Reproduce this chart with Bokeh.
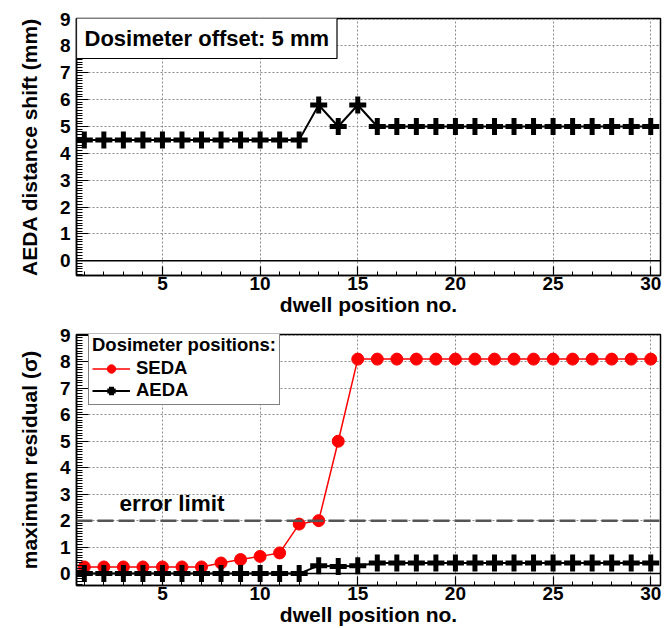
from bokeh.plotting import figure
from bokeh.layouts import column
from bokeh.models import Range1d, FixedTicker, Span, Label, Legend, LegendItem
from bokeh.embed import file_html
from bokeh.resources import INLINE

# ---------------- data ----------------
positions = [1, 2, 3, 4, 5, 6, 7, 8, 9, 10, 11, 12, 13, 14, 15,
             16, 17, 18, 19, 20, 21, 22, 23, 24, 25, 26, 27, 28, 29, 30]
aeda_shift = [4.5, 4.5, 4.5, 4.5, 4.5, 4.5, 4.5, 4.5, 4.5, 4.5, 4.5, 4.5, 5.8, 5.0, 5.8,
              5.0, 5.0, 5.0, 5.0, 5.0, 5.0, 5.0, 5.0, 5.0, 5.0, 5.0, 5.0, 5.0, 5.0, 5.0]
seda_residual = [0.25, 0.25, 0.25, 0.25, 0.25, 0.25, 0.25, 0.4, 0.53, 0.65, 0.78, 1.87, 2.0, 5.0, 8.1,
                 8.1, 8.1, 8.1, 8.1, 8.1, 8.1, 8.1, 8.1, 8.1, 8.1, 8.1, 8.1, 8.1, 8.1, 8.1]
aeda_residual = [0.0, 0.0, 0.0, 0.0, 0.0, 0.0, 0.0, 0.0, 0.0, 0.0, 0.0, 0.0, 0.3, 0.27, 0.3,
                 0.4, 0.4, 0.4, 0.4, 0.4, 0.4, 0.4, 0.4, 0.4, 0.4, 0.4, 0.4, 0.4, 0.4, 0.4]
x_major_ticks = [5, 10, 15, 20, 25, 30]
x_minor_ticks = positions
y_major_ticks = [0, 1, 2, 3, 4, 5, 6, 7, 8, 9]
error_limit = 2
offset_text = "Dosimeter offset: 5 mm"

FONT = "Liberation Sans"
X0, X1 = 0.6, 30.5


def make_fig(height, y0, y1, top, ylabel):
    p = figure(width=672, height=height, x_range=Range1d(X0, X1), y_range=Range1d(y0, y1),
               output_backend="svg", toolbar_location=None,
               min_border_left=76, min_border_right=12,
               min_border_top=top, min_border_bottom=0)
    p.background_fill_color = "white"
    p.border_fill_color = "white"
    p.outline_line_color = "black"
    p.outline_line_width = 1.5
    p.xaxis.ticker = FixedTicker(ticks=x_major_ticks, minor_ticks=x_minor_ticks)
    y_minor = [k / 10 for k in range(int(y0 * 10), int(y1 * 10) + 1)]
    p.yaxis.ticker = FixedTicker(ticks=y_major_ticks, minor_ticks=y_minor)
    for ax in (p.xaxis[0], p.yaxis[0]):
        ax.axis_line_color = "black"
        ax.axis_line_width = 1.5
        ax.major_tick_line_color = "black"
        ax.minor_tick_line_color = "black"
        ax.major_tick_line_width = 1.2
        ax.minor_tick_line_width = 1
        ax.major_tick_out = 0
        ax.minor_tick_out = 0
        ax.major_label_text_font = FONT
        ax.major_label_text_font_style = "bold"
        ax.major_label_text_font_size = "19px"
        ax.major_label_text_color = "black"
        ax.axis_label_text_font = FONT
        ax.axis_label_text_font_style = "bold"
        ax.axis_label_text_font_size = "21px"
        ax.axis_label_text_color = "black"
    p.xaxis.major_tick_in = 9
    p.xaxis.minor_tick_in = 4
    p.yaxis.major_tick_in = 12
    p.yaxis.minor_tick_in = 6
    p.xaxis.major_label_standoff = 1
    p.yaxis.major_label_standoff = 6
    p.xaxis.axis_label = "dwell position no."
    p.xaxis.axis_label_standoff = 0
    p.yaxis.axis_label = ylabel
    p.yaxis.axis_label_standoff = 16
    for g in (p.xgrid[0], p.ygrid[0]):
        g.grid_line_color = "#8a8a8a"
        g.grid_line_dash = "2 2"
        g.grid_line_width = 1
    p.add_layout(Span(location=0, dimension="width", line_color="black", line_width=1.5))
    return p


# ---------------- top panel ----------------
p1 = make_fig(318, -0.55, 9.02, 18, "AEDA distance shift (mm)")
p1.line(positions, aeda_shift, line_color="black", line_width=2)
p1.scatter(positions, aeda_shift, marker="cross", size=17, line_width=5, line_color="black")
p1.add_layout(Label(x=X0, y=9.02, x_offset=0, y_offset=1, text=offset_text,
                    text_align="left", text_baseline="top", text_font=FONT,
                    text_font_style="bold", text_font_size="22px", text_color="black",
                    padding=8, border_line_color="black", border_line_width=1.2,
                    background_fill_color="white"))

# ---------------- bottom panel ----------------
p2 = make_fig(310, -0.45, 9.03, 16, "maximum residual (\u03c3)")
p2.add_layout(Span(location=error_limit, dimension="width", line_color="#555555",
                   line_width=2.5, line_dash="16 5"))
p2.add_layout(Label(x=2.8, y=error_limit, y_offset=5, text="error limit",
                    text_align="left", text_baseline="bottom", text_font=FONT,
                    text_font_style="bold", text_font_size="22.5px", text_color="black"))
sl = p2.line(positions, seda_residual, line_color="red", line_width=1.5)
sc = p2.scatter(positions, seda_residual, marker="circle", size=12,
                fill_color="red", line_color="red")
al = p2.line(positions, aeda_residual, line_color="black", line_width=2)
ac = p2.scatter(positions, aeda_residual, marker="cross", size=17, line_width=5,
                line_color="black")

legend = Legend(items=[LegendItem(label="SEDA", renderers=[sl, sc]),
                       LegendItem(label="AEDA", renderers=[al, ac])],
                location=(12, 180), title="Dosimeter positions:")
legend.title_text_font = FONT
legend.title_text_font_style = "bold"
legend.title_text_font_size = "18.5px"
legend.title_text_color = "black"
legend.title_standoff = 1
legend.label_text_font = FONT
legend.label_text_font_style = "bold"
legend.label_text_font_size = "18.5px"
legend.label_text_color = "black"
legend.label_height = 21
legend.glyph_height = 21
legend.glyph_width = 38
legend.label_standoff = 6
legend.spacing = 0
legend.padding = 3
legend.border_line_color = "black"
legend.border_line_width = 1.5
legend.background_fill_alpha = 1
p2.add_layout(legend)

layout = column(p1, p2, spacing=0)
open("out.html", "w").write(file_html(layout, INLINE))
